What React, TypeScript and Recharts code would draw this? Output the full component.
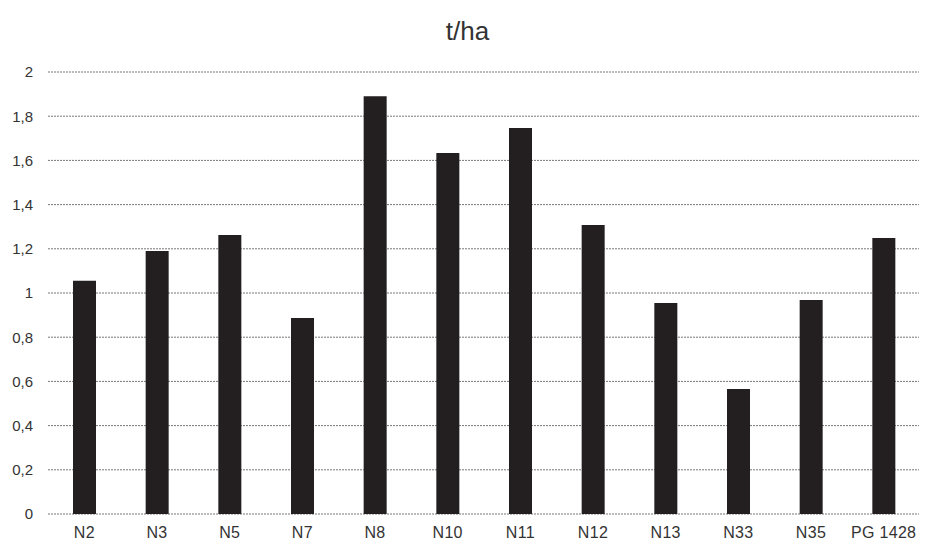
import { BarChart, Bar, XAxis, YAxis, CartesianGrid } from 'recharts'

const categories = ['N2', 'N3', 'N5', 'N7', 'N8', 'N10', 'N11', 'N12', 'N13', 'N33', 'N35', 'PG 1428']
const yields = [1.055, 1.19, 1.262, 0.887, 1.89, 1.633, 1.747, 1.308, 0.955, 0.566, 0.968, 1.249]
const yTicks = [0, 0.2, 0.4, 0.6, 0.8, 1, 1.2, 1.4, 1.6, 1.8, 2]

const data = categories.map((name, i) => ({ name, value: yields[i] }))

const fmt = (v: number) => String(v).replace('.', ',')

export default function App() {
  return (
    <div style={{ position: 'relative', width: 919, height: 536, fontFamily: 'Liberation Sans, Arial, sans-serif' }}>
      <div style={{ position: 'absolute', top: 8, left: 0, width: 919, textAlign: 'center', fontSize: 26, color: '#333' }}>
        t/ha
      </div>
      <BarChart width={919} height={536} data={data} margin={{ top: 64, right: 7, bottom: 0, left: 0 }} barSize={23}>
        <CartesianGrid vertical={false} stroke="#777" strokeDasharray="2 1" />
        <XAxis
          dataKey="name"
          axisLine={false}
          tickLine={false}
          height={30}
          tick={{ fontSize: 16, fill: '#333', letterSpacing: 0.3 }}
          tickMargin={7}
        />
        <YAxis
          domain={[0, 2]}
          ticks={yTicks}
          tickFormatter={fmt}
          axisLine={false}
          tickLine={false}
          width={40}
          tick={{ fontSize: 15, fill: '#333' }}
          tickMargin={9}
        />
        <Bar dataKey="value" fill="#231f20" isAnimationActive={false} />
      </BarChart>
    </div>
  )
}
